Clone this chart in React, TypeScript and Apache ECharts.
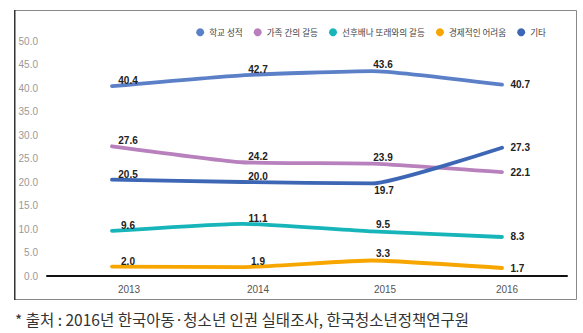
import React, { useEffect, useRef } from "react";
import * as echarts from "echarts";

const categories = ["2013", "2014", "2015", "2016"];
const seriesNames = ["학교 성적", "가족 간의 갈등", "선후배나 또래와의 갈등", "경제적인 어려움", "기타"];
const schoolGrades = [40.4, 42.7, 43.6, 40.7];
const familyConflict = [27.6, 24.2, 23.9, 22.1];
const peerConflict = [9.6, 11.1, 9.5, 8.3];
const economicHardship = [2.0, 1.9, 3.3, 1.7];
const others = [20.5, 20.0, 19.7, 27.3];
const yTicks = [0, 5, 10, 15, 20, 25, 30, 35, 40, 45, 50];
const caption = "* 출처 : 2016년 한국아동·청소년 인권 실태조사, 한국청소년정책연구원";

const colors = ["#5B80C8", "#B880BC", "#17B5BA", "#F7A600", "#3D66B4"];
const allData = [schoolGrades, familyConflict, peerConflict, economicHardship, others];

function labelFor(seriesIdx: number, i: number) {
  const base = { show: true, fontSize: 10, fontWeight: "bold", color: "#222", fontFamily: "Liberation Sans, Arial, sans-serif" };
  if (i === 3) return { ...base, position: "right", distance: 8 };
  if (seriesIdx === 4 && i === 2) return { ...base, position: "bottom", distance: 2, offset: [12, 0] };
  if (i === 2) return { ...base, position: "top", distance: 1, offset: [11, 0] };
  return { ...base, position: "top", distance: 0, offset: [16, 0] };
}

const axisLabelPad = [34, 32, 26, 10];

export default function App() {
  const ref = useRef<HTMLDivElement>(null);
  useEffect(() => {
    if (!ref.current) return;
    const chart = echarts.init(ref.current, null, { renderer: "svg" });
    const rich: any = {};
    axisLabelPad.forEach((p, i) => {
      rich["a" + i] = { padding: [0, 0, 0, p], fontSize: 10, color: "#555", fontFamily: "Liberation Sans, Arial, sans-serif" };
    });
    chart.setOption({
      animation: false,
      backgroundColor: "#fff",
      color: colors,
      legend: {
        data: seriesNames,
        icon: "circle",
        itemWidth: 8,
        itemHeight: 8,
        itemGap: 11,
        right: 32,
        top: 23,
        textStyle: { fontSize: 8.6, color: "#444", fontFamily: "Noto Sans CJK KR, sans-serif" },
      },
      grid: { left: 47, right: 16, top: 41, bottom: 57 },
      xAxis: {
        type: "category",
        data: categories,
        boundaryGap: true,
        axisLine: { show: true, lineStyle: { color: "#111", width: 2 } },
        axisTick: { show: false },
        axisLabel: {
          margin: 8,
          formatter: (v: string, i: number) => `{a${i}|${v}}`,
          rich,
        },
      },
      yAxis: {
        type: "value",
        min: 0,
        max: 50,
        interval: 5,
        axisLine: { show: false },
        axisTick: { show: false },
        splitLine: { show: false },
        axisLabel: {
          margin: 9,
          fontSize: 10,
          color: "#999",
          fontFamily: "Liberation Sans, Arial, sans-serif",
          formatter: (v: number) => (yTicks.includes(v) ? v.toFixed(1) : ""),
        },
      },
      series: seriesNames.map((name, si) => ({
        name,
        type: "line",
        smooth: 0.15,
        symbol: "circle",
        symbolSize: 1,
        showSymbol: true,
        lineStyle: { width: 3.8, color: colors[si], cap: "round", join: "round" },
        itemStyle: { color: colors[si] },
        z: si === 4 ? 3 : 2,
        data: allData[si].map((v, i) => ({ value: v, label: labelFor(si, i) })),
        label: { formatter: (p: any) => Number(p.value).toFixed(1) },
      })),
      graphic: [
        {
          type: "rect",
          shape: { x: 14.5, y: 10.5, width: 562, height: 289 },
          style: { fill: "none", stroke: "#888", lineWidth: 1 },
          silent: true,
          z: -1,
        },
        {
          type: "rect",
          shape: { x: 14, y: 10, width: 1.5, height: 290 },
          style: { fill: "#333" },
          silent: true,
        },
        {
          type: "text",
          x: 15,
          y: 319,
          style: {
            text: caption,
            fontSize: 15.5,
            fill: "#333",
            fontFamily: "Noto Sans CJK KR, sans-serif",
            verticalAlign: "middle",
            align: "left",
          },
        },
      ],
    });
    return () => chart.dispose();
  }, []);
  return <div ref={ref} style={{ width: 583, height: 333, position: "fixed", left: 0, top: 0 }} />;
}
